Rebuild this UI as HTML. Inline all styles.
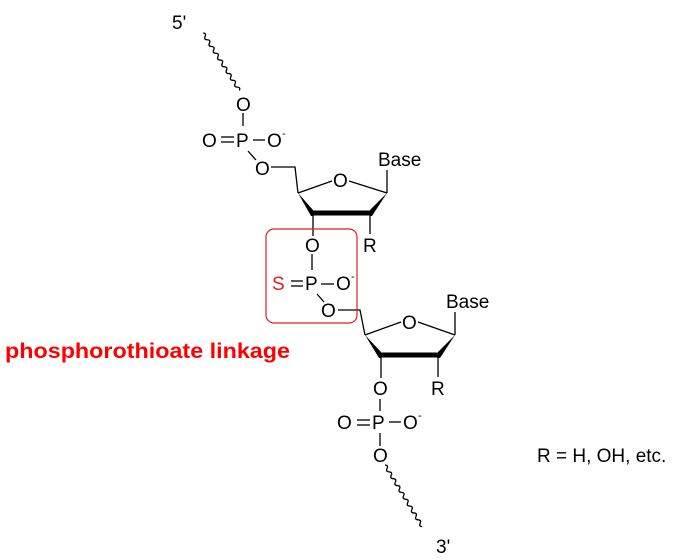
<!DOCTYPE html>
<html><head><style>body{margin:0;background:#fff}svg{display:block}text{font-family:"Liberation Sans",Arial,sans-serif;font-size:19px;fill:#000}</style></head><body>
<svg width="700" height="560" viewBox="0 0 700 560">
<g stroke="#000" stroke-width="1.3" fill="none">
<g transform="translate(203,33) rotate(57.7)"><path d="M0,0 q2,-3 4,0 t4,0 t4,0 t4,0 t4,0 t4,0 t4,0 t4,0 t4,0 t4,0 t4,0 t4,0 t4,0 t4,0 t4,0 t4,0 t4,0"/></g>
<g transform="translate(385,465) rotate(58.9)"><path d="M0,0 q2,-3 4,0 t4,0 t4,0 t4,0 t4,0 t4,0 t4,0 t4,0 t4,0 t4,0 t4,0 t4,0 t4,0 t4,0 t4,0 t4,0 t4,0 t4,0"/></g>
<line x1="243" y1="113" x2="243" y2="126"/>
<line x1="221" y1="137" x2="234" y2="137"/><line x1="221" y1="142" x2="234" y2="142"/>
<line x1="253" y1="140" x2="265" y2="140"/>
<line x1="248" y1="151" x2="256" y2="160"/>
<polyline points="271,167 295,167 298,193"/>
<line x1="298" y1="193" x2="332" y2="181"/><line x1="349" y1="181" x2="387" y2="193"/>
<line x1="387" y1="193" x2="387" y2="170"/>
<line x1="313" y1="213" x2="370" y2="213" stroke-width="5"/>
<line x1="313" y1="213" x2="313" y2="236"/><line x1="370" y1="213" x2="370" y2="234"/>
<line x1="312" y1="254" x2="312" y2="270"/>
<line x1="291" y1="281" x2="303" y2="281"/><line x1="291" y1="286" x2="303" y2="286"/>
<line x1="321" y1="284" x2="334" y2="284"/>
<line x1="317" y1="294" x2="324" y2="302"/>
<polyline points="338,310 360,310 365,335"/>
<line x1="365" y1="335" x2="401" y2="322"/><line x1="418" y1="322" x2="455" y2="335"/>
<line x1="455" y1="335" x2="455" y2="312"/>
<line x1="381" y1="355" x2="438" y2="355" stroke-width="5"/>
<line x1="381" y1="355" x2="381" y2="378"/><line x1="438" y1="355" x2="438" y2="377"/>
<line x1="380" y1="399" x2="380" y2="411"/>
<line x1="357" y1="420" x2="370" y2="420"/><line x1="357" y1="425" x2="370" y2="425"/>
<line x1="389" y1="422" x2="401" y2="422"/>
<line x1="380" y1="433" x2="380" y2="446"/>
<rect x="266" y="229" width="91" height="94" rx="8" stroke="#e02020" stroke-width="1.2"/>
</g>
<polygon points="298,193 313,210 313,216 311,216" fill="#000"/>
<polygon points="387,193 370,210 370,216 372,216" fill="#000"/>
<polygon points="365,335 381,352 381,358 379,358" fill="#000"/>
<polygon points="455,335 438,352 438,358 440,358" fill="#000"/>
<text x="172" y="29">5'</text>
<text x="236" y="111">O</text>
<text x="202" y="147">O</text><text x="236" y="147">P</text><text x="267" y="147">O</text><text x="282" y="137" style="font-size:11px">-</text>
<text x="255" y="175">O</text>
<text x="333" y="187">O</text>
<text x="378" y="166">Base</text>
<text x="363" y="252">R</text>
<text x="305" y="252">O</text>
<text x="272" y="290" style="fill:#e02020">S</text><text x="305" y="290">P</text><text x="336" y="290">O</text><text x="351" y="280" style="font-size:11px">-</text>
<text x="321" y="317">O</text>
<text x="402" y="329">O</text>
<text x="446" y="308">Base</text>
<text x="431" y="395">R</text>
<text x="373" y="395">O</text>
<text x="337" y="429">O</text><text x="372" y="429">P</text><text x="403" y="429">O</text><text x="418" y="419" style="font-size:11px">-</text>
<text x="373" y="462">O</text>
<text x="436" y="553">3'</text>
<text x="537" y="462">R = H, OH, etc.</text>
<text x="5" y="358" textLength="285" lengthAdjust="spacingAndGlyphs" style="fill:#f00;font-weight:bold;font-size:21px">phosphorothioate linkage</text>
</svg>
</body></html>
